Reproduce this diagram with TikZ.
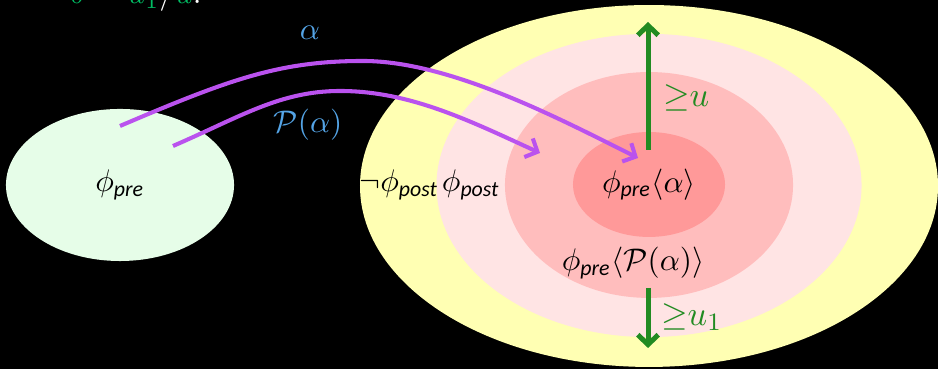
\documentclass[tikz,border=0pt]{standalone}
\usepackage{amsmath}
\usepackage{amssymb}
\usepackage{fontspec}
\usepackage{xcolor}
\usetikzlibrary{arrows.meta, positioning, shapes.geometric}
\newfontfamily\subfont{Carlito}
\newcommand{\spre}{\text{\subfont\itshape pre}}
\newcommand{\spost}{\text{\subfont\itshape post}}
\definecolor{pregreen}{RGB}{230,253,232}
\definecolor{postyellow}{RGB}{255,255,179}
\definecolor{pinkA}{RGB}{255,228,228}
\definecolor{pinkB}{RGB}{255,189,189}
\definecolor{pinkC}{RGB}{255,153,153}
\definecolor{flow}{RGB}{186,82,238}
\definecolor{labelblue}{RGB}{84,164,230}
\definecolor{boundgreen}{RGB}{34,139,34}
\definecolor{topgreen}{RGB}{0,190,100}

\begin{document}
\begin{tikzpicture}[x=0.01125cm, y=0.01125cm, >={Straight Barb[length=1.1mm, width=2.3mm]},
  font=\fontsize{10}{12}\selectfont,
  region/.style={ellipse, inner sep=0pt, outer sep=0pt},
  flowarrow/.style={->, draw=flow, line width=1.3pt},
  boundarrow/.style={->, draw=boundgreen, line width=1.6pt}]
  \fill[black] (0,0) rectangle (938,369);
  \useasboundingbox (0,0) rectangle (938,369);
  \node[anchor=base west, white, inner sep=0pt] (ratio) at (70,365)
    {$\textcolor{topgreen}{\delta} = \textcolor{topgreen}{u_1}/\textcolor{topgreen}{u}$.};
  \node[region, fill=pregreen, minimum width=2.565cm, minimum height=1.71cm] (pre) at (120,184) {$\phi_{\spre}$};
  \node[region, fill=postyellow, minimum width=6.5cm, minimum height=4.07cm] (post) at (649,183) {};
  \node[region, fill=pinkA, minimum width=4.78cm, minimum height=3.41cm] (notpost) at (649,183.5) {};
  \node[region, fill=pinkB, minimum width=3.24cm, minimum height=2.54cm] (img) at (649,184) {};
  \node[region, fill=pinkC, minimum width=1.71cm, minimum height=1.18cm] (imgA) at (649,184.5) {$\phi_{\spre}\langle\alpha\rangle$};
  \node (negpost) at (399,184) {$\neg\phi_{\spost}$};
  \node (pospost) at (471,184) {$\phi_{\spost}$};
  \node (imgP) at (633,106) {$\phi_{\spre}\langle\mathcal{P}(\alpha)\rangle$};
  \node[labelblue] (alab) at (310,336) {$\alpha$};
  \node[labelblue] (plab) at (308,244) {$\mathcal{P}(\alpha)$};
  \coordinate (a0) at (120,243);
  \coordinate (a1) at (638,211);
  \coordinate (p0) at (173,223);
  \coordinate (p1) at (540,216);
  \draw[flowarrow] (a0) .. controls (230,290) and (280,308) .. (363,308)
    .. controls (450,308) and (560,250) .. (a1);
  \draw[flowarrow] (p0) .. controls (240,252) and (280,278) .. (340,278)
    .. controls (410,278) and (470,248) .. (p1);
  \coordinate (u0) at (648,219);
  \coordinate (u1) at (648,347);
  \coordinate (d0) at (648,81);
  \coordinate (d1) at (648,21);
  \draw[boundarrow] (u0) -- (u1);
  \draw[boundarrow] (d0) -- (d1);
  \node[boundgreen, anchor=west, font=\fontsize{11}{13}\selectfont] (ulab) at (652,271) {${\geq}u$};
  \node[boundgreen, anchor=west, font=\fontsize{11}{13}\selectfont] (u1lab) at (650,52) {${\geq}u_1$};
\end{tikzpicture}
\end{document}
